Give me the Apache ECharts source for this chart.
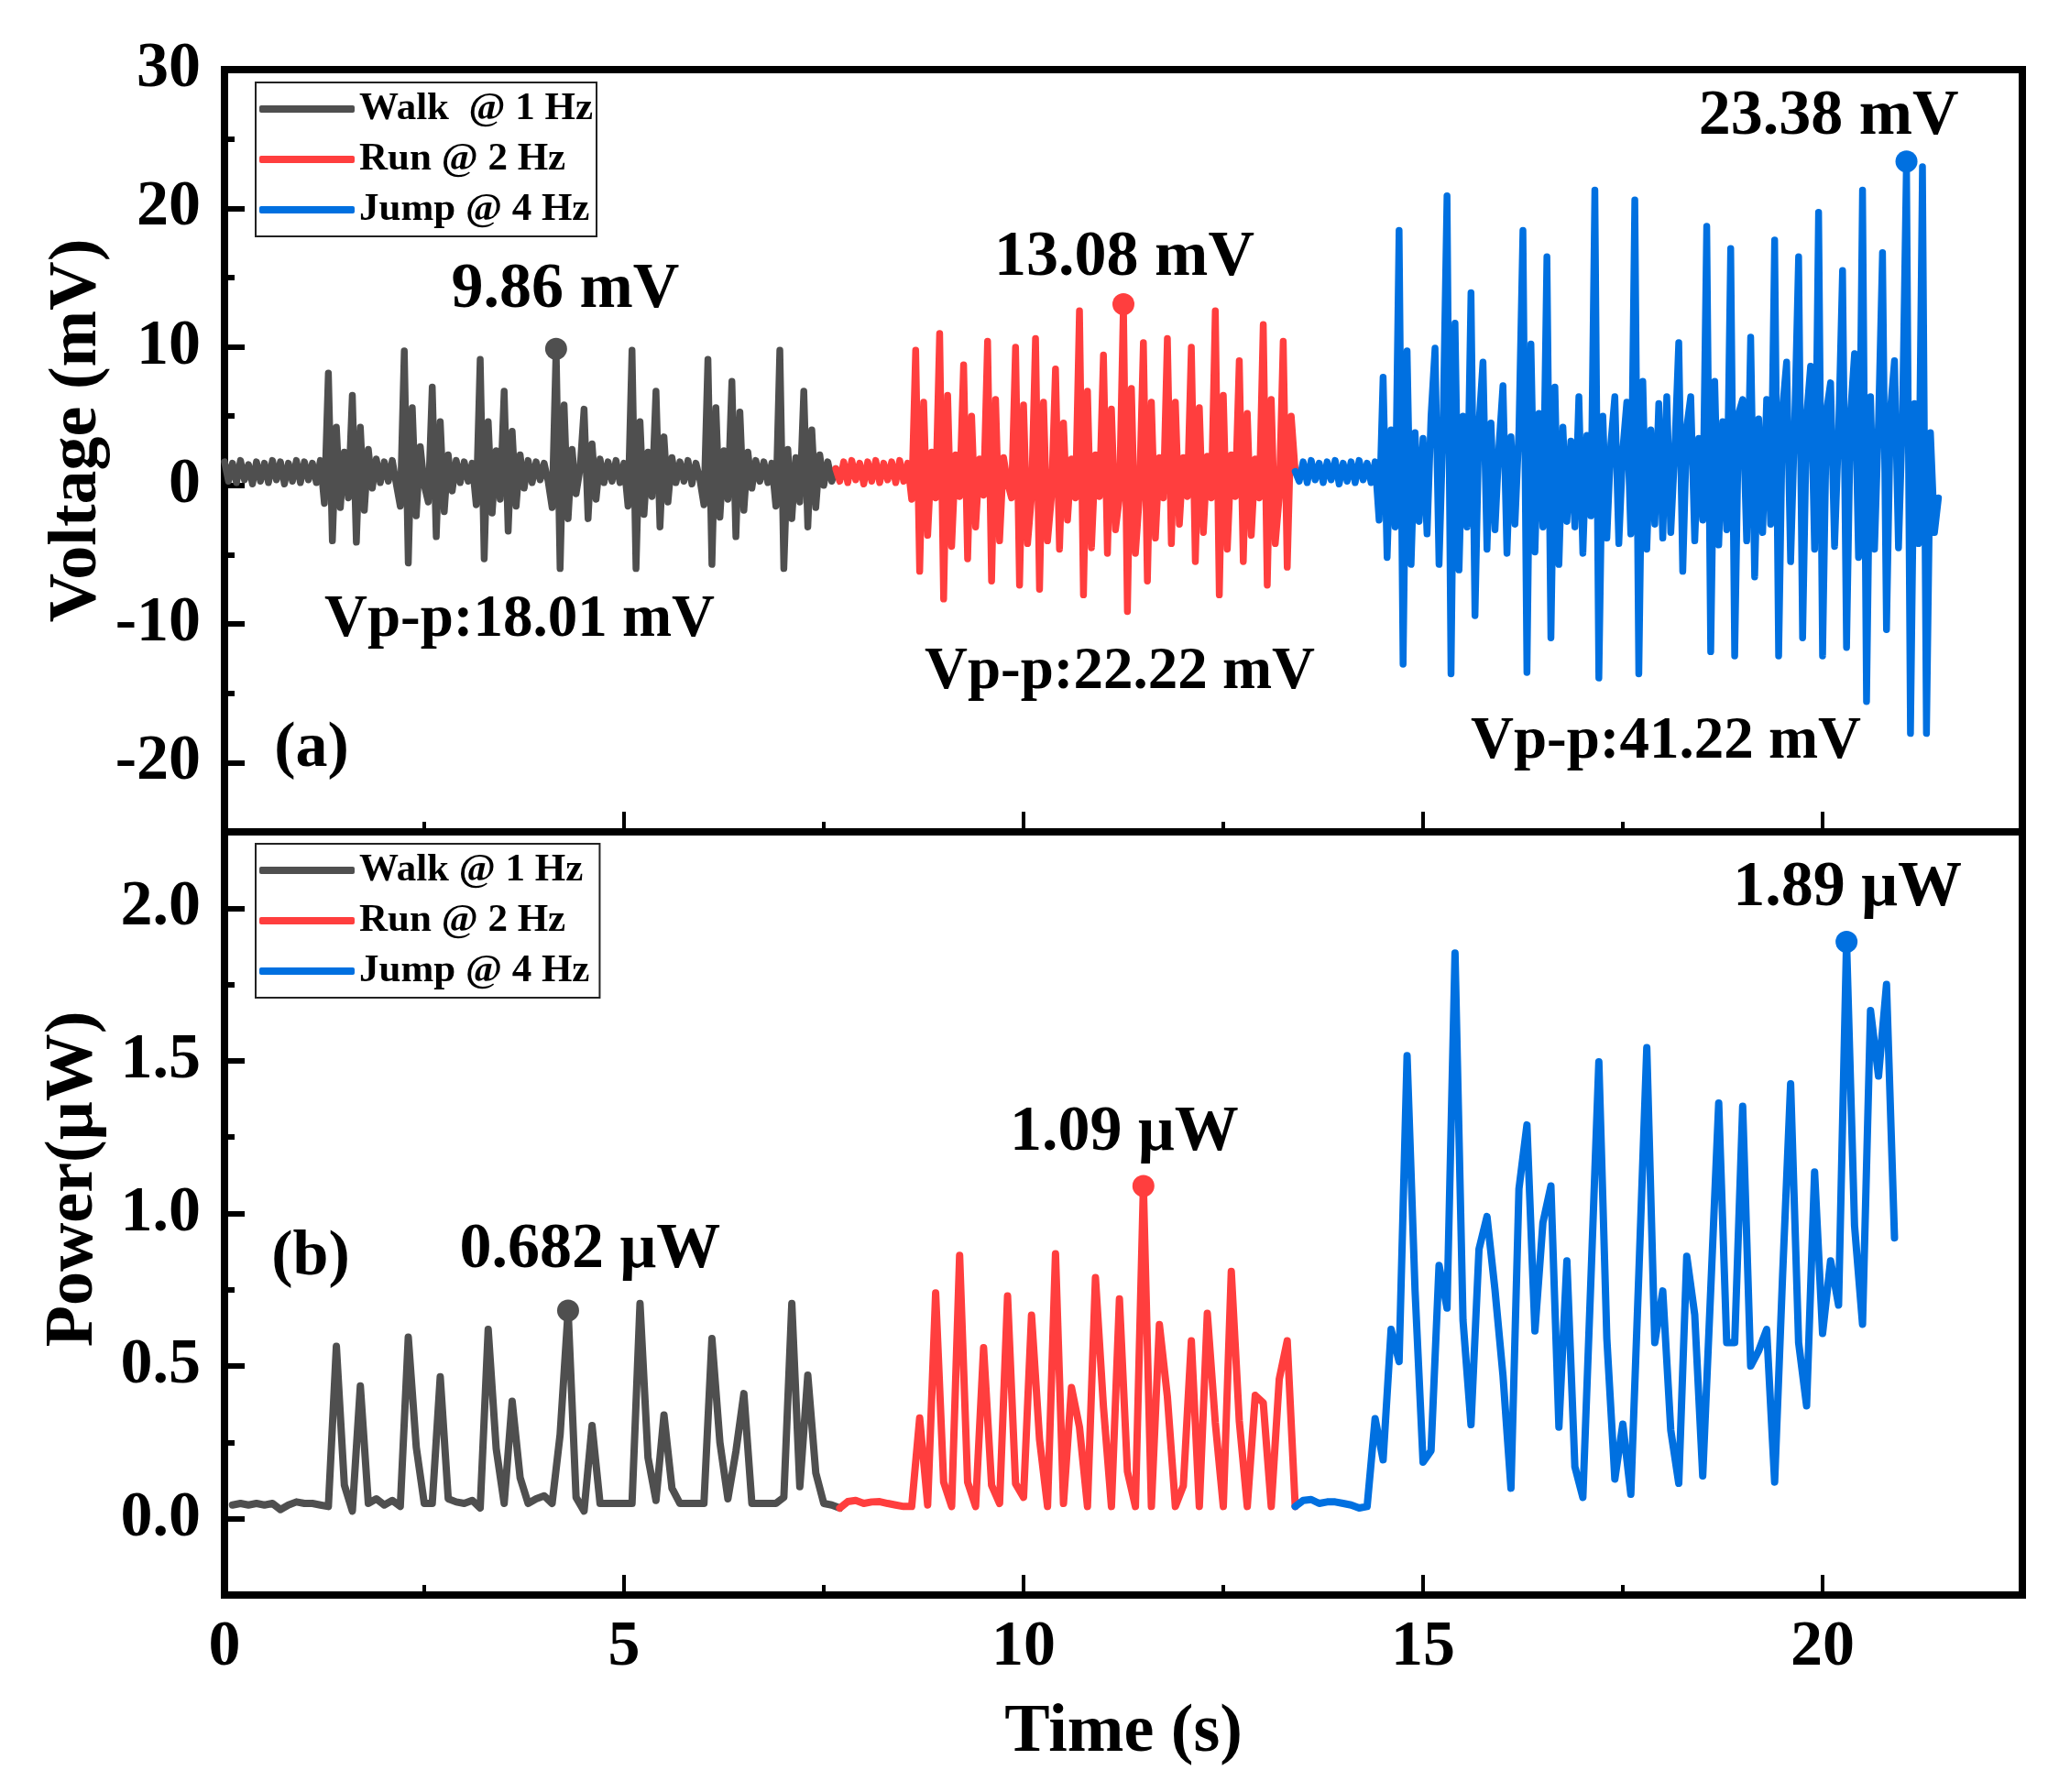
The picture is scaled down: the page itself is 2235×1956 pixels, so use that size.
<!DOCTYPE html>
<html>
<head>
<meta charset="utf-8">
<title>Voltage and power</title>
<script src="https://cdn.jsdelivr.net/npm/echarts@6.0.0/dist/echarts.min.js"></script>
<style>
html, body { margin: 0; padding: 0; background: #fff; }
#chart { width: 2235px; height: 1956px; }
</style>
</head>
<body>
<div id="chart"></div>
<script>
var FONT = '"Liberation Serif", "Times New Roman", serif';
var GRAY = '#4f4f4f', RED = '#ff3e3e', BLUE = '#0070e0';

// tick values
var xMajor = [0, 5, 10, 15, 20];
var xMinor = [2.5, 7.5, 12.5, 17.5];
var vMajor = [-20, -10, 0, 10, 20, 30];
var vMinor = [-15, -5, 5, 15, 25];
var pMajor = [0, 0.5, 1.0, 1.5, 2.0];
var pMinor = [0.25, 0.75, 1.25, 1.75];

// (a) voltage (mV), one sample every 0.05 s
var vStep = 0.05;
var walkT0 = 0, runT0 = 7.65, jumpT0 = 13.4;
var walkV = [
  1.7, 0.3, 1.6, 0.2, 1.8, 0.4, 1.5, 0.1, 1.7, 0.3,
  1.6, 0.2, 1.8, 0.4, 1.7, 0.1, 1.6, 0.3, 1.8, 0.2,
  1.7, 0.4, 1.6, 0.2, 1.8, -1.3, 8.1, -4.0, 4.2, -1.6,
  2.4, -0.9, 6.5, -4.1, 4.2, -1.8, 2.6, -0.2, 1.9, 0.2,
  1.7, 0.3, 1.8, 0.1, -1.5, 9.7, -5.6, 5.6, -2.2, 2.8,
  0.0, -1.2, 7.1, -3.7, 4.6, -1.9, 2.2, -0.4, 1.8, 0.2,
  1.7, 0.3, 1.6, -1.4, 9.1, -5.3, 4.6, -2.0, 2.5, -1.0,
  6.8, -3.3, 3.9, -1.5, 2.2, -0.2, 1.8, 0.2, 1.7, 0.4,
  1.6, 0.3, -1.6, 9.86, -6.0, 5.8, -2.4, 2.6, -0.6, 1.2,
  5.5, -2.4, 3.0, -1.0, 1.9, 0.2, 1.7, 0.3, 1.8, 0.2,
  1.6, -1.5, 9.75, -6.0, 4.6, -2.1, 2.4, -0.8, 6.8, -3.0,
  3.5, -1.2, 2.0, 0.2, 1.7, 0.3, 1.8, 0.1, 1.6, 0.4,
  -1.4, 9.1, -5.7, 5.6, -2.3, 2.5, -1.0, 7.5, -3.7, 5.3,
  -1.8, 2.4, -0.2, 1.8, 0.3, 1.7, 0.2, 1.6, -1.5, 9.75,
  -6.0, 2.6, -2.4, 2.0, -1.2, 6.8, -3.0, 4.0, -1.6, 2.2,
  0.0, 1.7, 0.3, 1.2
];
var runV = [
  1.2, 0.3, 1.7, 0.2, 1.8, 0.4, 1.6, 0.1, 1.7, 0.3,
  1.8, 0.2, 1.6, 0.4, 1.7, 0.2, 1.8, 0.3, 1.6, -1.0,
  9.75, -6.2, 6.0, -3.6, 2.4, -0.9, 10.96, -8.2, 6.5, -4.4,
  2.2, -0.8, 8.7, -5.3, 5.0, -3.0, 1.9, -0.7, 10.4, -6.9,
  6.2, -4.0, 2.0, 0.2, -0.9, 9.97, -7.2, 5.8, -4.2, -0.8,
  10.6, -7.5, 6.0, -4.0, -0.8, 8.4, -4.6, 4.5, -2.5, 1.9,
  -0.9, 12.6, -7.9, 6.8, -4.5, 2.2, -0.8, 9.4, -4.9, 5.5,
  -3.2, -0.9, 13.08, -9.1, 7.0, -4.9, -0.8, 10.3, -6.9, 6.0,
  -3.8, 2.0, -0.9, 10.6, -4.2, 6.0, -2.8, 2.0, -0.8, 9.97,
  -5.5, 5.6, -3.4, 2.1, -0.9, 12.6, -7.9, 6.5, -4.6, 2.2,
  -0.8, 9.0, -5.5, 5.2, -3.6, 1.9, -0.9, 11.6, -7.2, 6.2,
  -4.2, -0.8, 10.4, -5.9, 5.0, 1.0
];
var jumpV = [
  1.0, 0.3, 1.7, 0.2, 1.8, 0.4, 1.6, 0.2, 1.7, 0.4,
  1.8, 0.1, 1.6, 0.3, 1.7, 0.2, 1.8, 0.4, 1.6, 0.2,
  1.7, -2.5, 7.8, -5.2, 4.0, -3.0, 18.4, -12.9, 9.7, -5.7,
  3.8, -2.6, 3.4, -3.5, 5.0, 9.9, -5.7, 4.2, 20.9, -13.6,
  11.7, -6.1, 5.0, -3.0, 13.9, -9.4, 4.5, 8.9, -4.6, 4.5,
  -3.2, 2.8, 7.2, -4.9, 3.5, -2.8, 4.0, 18.4, -13.5, 10.2,
  -4.8, 5.2, -3.0, 16.5, -11.0, 7.1, -5.7, 4.2, -2.6, 3.2,
  -3.0, 6.4, -4.9, 3.6, -2.2, 21.3, -13.9, 5.0, -3.8, 3.0,
  6.4, -4.2, 2.6, 6.0, -3.5, 20.6, -13.6, 7.5, -4.6, 4.0,
  -2.8, 5.9, -3.8, 6.4, -3.4, 2.5, 10.3, -6.2, 4.2, 6.4,
  -4.0, 3.4, -2.5, 18.7, -12.0, 7.5, -4.3, 4.6, -3.2, 17.1,
  -12.3, 5.2, 6.2, -4.0, 10.7, -6.6, 4.8, -3.4, 6.2, -2.8,
  17.7, -12.3, 5.6, 8.9, -5.5, 4.4, 16.5, -11.0, 5.0, 8.6,
  -4.6, 19.7, -12.3, 5.4, 7.4, -4.4, 3.8, 15.5, -11.7, 5.2,
  9.5, -5.2, 21.3, -15.6, 6.4, -4.6, 4.6, 16.8, -10.4, 5.5,
  9.0, -4.5, 5.0, 23.38, -17.9, 5.9, -4.2, 23.0, -17.9, 3.8,
  -3.4, -0.9
];

// (b) power (uW), one sample every 0.1 s
var pStep = 0.1;
var walkP0 = 0.1, runP0 = 7.7, jumpP0 = 13.4;
var walkP = [
  0.045, 0.05, 0.045, 0.05, 0.045, 0.05, 0.03, 0.045, 0.055, 0.05,
  0.05, 0.045, 0.04, 0.565, 0.11, 0.025, 0.435, 0.05, 0.065, 0.045,
  0.06, 0.04, 0.595, 0.234, 0.05, 0.05, 0.465, 0.065, 0.055, 0.05,
  0.06, 0.035, 0.62, 0.23, 0.05, 0.385, 0.134, 0.05, 0.065, 0.075,
  0.05, 0.275, 0.682, 0.07, 0.025, 0.305, 0.05, 0.05, 0.05, 0.05,
  0.05, 0.705, 0.2, 0.06, 0.34, 0.1, 0.05, 0.05, 0.05, 0.05,
  0.59, 0.25, 0.065, 0.22, 0.41, 0.05, 0.05, 0.05, 0.05, 0.07,
  0.705, 0.105, 0.47, 0.15, 0.05, 0.045, 0.035
];
var runP = [
  0.035, 0.056, 0.06, 0.05, 0.055, 0.056, 0.05, 0.045, 0.04, 0.04,
  0.33, 0.045, 0.74, 0.12, 0.04, 0.863, 0.12, 0.04, 0.56, 0.11,
  0.05, 0.73, 0.115, 0.07, 0.667, 0.26, 0.04, 0.868, 0.05, 0.43,
  0.30, 0.04, 0.79, 0.367, 0.04, 0.72, 0.155, 0.04, 1.09, 0.04,
  0.636, 0.40, 0.04, 0.108, 0.583, 0.04, 0.673, 0.314, 0.04, 0.81,
  0.32, 0.04, 0.404, 0.38, 0.04, 0.457, 0.583, 0.04
];
var jumpP = [
  0.04, 0.06, 0.063, 0.05, 0.055, 0.055, 0.05, 0.045, 0.035, 0.04,
  0.328, 0.193, 0.62, 0.515, 1.517, 0.746, 0.185, 0.223, 0.83, 0.69,
  1.853, 0.65, 0.308, 0.883, 0.99, 0.75, 0.47, 0.10, 1.08, 1.29,
  0.615, 0.97, 1.09, 0.30, 0.845, 0.17, 0.07, 0.78, 1.497, 0.59,
  0.13, 0.31, 0.08, 0.8, 1.543, 0.577, 0.746, 0.29, 0.116, 0.86,
  0.668, 0.14, 0.75, 1.362, 0.577, 0.577, 1.351, 0.50, 0.55, 0.62,
  0.12, 0.8, 1.425, 0.577, 0.37, 1.136, 0.607, 0.845, 0.70, 1.89,
  0.96, 0.637, 1.665, 1.45, 1.75, 0.92
];

// marked peaks: sample index in each array and the printed value
var vPeakIdx = [83, 72, 153];
var vPeakLabel = ['9.86 mV', '13.08 mV', '23.38 mV'];
var pPeakIdx = [42, 38, 69];
var pPeakLabel = ['0.682 μW', '1.09 μW', '1.89 μW'];

var topNames = ['Walk  @ 1 Hz', 'Run @ 2 Hz', 'Jump @ 4 Hz'];
var botNames = ['Walk @ 1 Hz', 'Run @ 2 Hz', 'Jump @ 4 Hz'];

function pairs(vals, t0, dt) {
  var out = [];
  for (var i = 0; i < vals.length; i++) {
    out.push([Math.round((t0 + i * dt) * 1000) / 1000, vals[i]]);
  }
  return out;
}

function trace(name, vals, t0, dt, axis, color, width, peak, text, offset) {
  return {
    name: name, type: 'line', xAxisIndex: axis, yAxisIndex: axis,
    data: pairs(vals, t0, dt),
    showSymbol: false, symbol: 'none', silent: true, animation: false,
    lineStyle: { color: color, width: width, join: 'round', cap: 'round' },
    itemStyle: { color: color },
    markPoint: {
      symbol: 'circle', symbolSize: 24, silent: true, animation: false,
      itemStyle: { color: color },
      label: {
        show: true, position: 'inside', offset: offset, formatter: text,
        color: '#000', fontFamily: FONT, fontWeight: 'bold', fontSize: 70
      },
      data: [{ coord: [Math.round((t0 + peak * dt) * 1000) / 1000, vals[peak]] }]
    }
  };
}

function xAxisDef(grid, ticks, len, labels) {
  var ax = {
    type: 'value', gridIndex: grid, position: 'bottom', min: 0, max: 22.5,
    axisLine: { show: false, onZero: false },
    axisTick: { show: true, inside: true, length: len, customValues: ticks,
      lineStyle: { color: '#000', width: 4 } },
    axisLabel: { show: labels, customValues: ticks, margin: 23, color: '#000',
      fontFamily: FONT, fontWeight: 'bold', fontSize: 70 },
    splitLine: { show: false }, minorTick: { show: false }
  };
  if (labels) {
    ax.name = 'Time (s)';
    ax.nameLocation = 'middle';
    ax.nameGap = 114;
    ax.nameTextStyle = { color: '#000', fontFamily: FONT, fontWeight: 'bold', fontSize: 74 };
  }
  return ax;
}

function yAxisDef(grid, min, max, ticks, len, labels, digits) {
  return {
    type: 'value', gridIndex: grid, position: 'left', min: min, max: max,
    axisLine: { show: false, onZero: false },
    axisTick: { show: true, inside: true, length: len, customValues: ticks,
      lineStyle: { color: '#000', width: 6 } },
    axisLabel: { show: labels, customValues: ticks, margin: 26, color: '#000',
      fontFamily: FONT, fontWeight: 'bold', fontSize: 70,
      formatter: function (v) { return v.toFixed(digits); } },
    splitLine: { show: false }, minorTick: { show: false }
  };
}

function legendDef(names, top, padRight) {
  return {
    data: names, orient: 'vertical', left: 279, top: top,
    itemWidth: 104, itemHeight: 8, itemGap: 7, icon: 'roundRect',
    padding: [5, padRight, 5, 4], borderColor: '#222', borderWidth: 2,
    backgroundColor: '#fff', selectedMode: false,
    textStyle: { color: '#000', fontFamily: FONT, fontWeight: 'bold', fontSize: 43, lineHeight: 48 }
  };
}

function note(text, x, y, size, rot) {
  return {
    type: 'text', x: x, y: y, rotation: rot || 0, silent: true, z: 100,
    style: { text: text, fill: '#000', fontFamily: FONT, fontWeight: 'bold', fontSize: size,
      align: 'center', verticalAlign: 'middle', textAlign: 'center', textVerticalAlign: 'middle' }
  };
}

var chart = echarts.init(document.getElementById('chart'));
chart.setOption({
  backgroundColor: '#fff',
  animation: false,
  textStyle: { fontFamily: FONT },
  grid: [
    { left: 245, top: 76, width: 1962, height: 832, show: true,
      borderColor: '#000', borderWidth: 8, backgroundColor: 'rgba(0,0,0,0)' },
    { left: 245, top: 908, width: 1962, height: 833, show: true,
      borderColor: '#000', borderWidth: 8, backgroundColor: 'rgba(0,0,0,0)' }
  ],
  xAxis: [
    xAxisDef(0, xMajor, 22, false),
    xAxisDef(0, xMinor, 11, false),
    xAxisDef(1, xMajor, 22, true),
    xAxisDef(1, xMinor, 11, false)
  ],
  yAxis: [
    yAxisDef(0, -25, 30, vMajor, 22, true, 0),
    yAxisDef(0, -25, 30, vMinor, 11, false, 0),
    yAxisDef(1, -0.25, 2.25, pMajor, 22, true, 1),
    yAxisDef(1, -0.25, 2.25, pMinor, 11, false, 1)
  ],
  legend: [legendDef(topNames, 90, 4), legendDef(botNames, 921, 11)],
  graphic: [
    note('Voltage (mV)', 85, 470, 74, Math.PI / 2),
    note('Power(μW)', 81, 1287, 74, Math.PI / 2),
    note('(a)', 340, 818, 70),
    note('(b)', 339, 1373, 70),
    note('Vp-p:18.01 mV', 567, 677, 65),
    note('Vp-p:22.22 mV', 1222, 734, 65),
    note('Vp-p:41.22 mV', 1818, 810, 65)
  ],
  series: [
    trace(topNames[0], walkV, walkT0, vStep, 0, GRAY, 7.5, vPeakIdx[0], vPeakLabel[0], [10, -64]),
    trace(topNames[1], runV, runT0, vStep, 0, RED, 7.5, vPeakIdx[1], vPeakLabel[1], [1, -50]),
    trace(topNames[2], jumpV, jumpT0, vStep, 0, BLUE, 7.5, vPeakIdx[2], vPeakLabel[2], [-85, -48]),
    trace(botNames[0], walkP, walkP0, pStep, 2, GRAY, 8, pPeakIdx[0], pPeakLabel[0], [24, -66]),
    trace(botNames[1], runP, runP0, pStep, 2, RED, 8, pPeakIdx[1], pPeakLabel[1], [-21, -58]),
    trace(botNames[2], jumpP, jumpP0, pStep, 2, BLUE, 8, pPeakIdx[2], pPeakLabel[2], [1, -58])
  ]
});
</script>
</body>
</html>
